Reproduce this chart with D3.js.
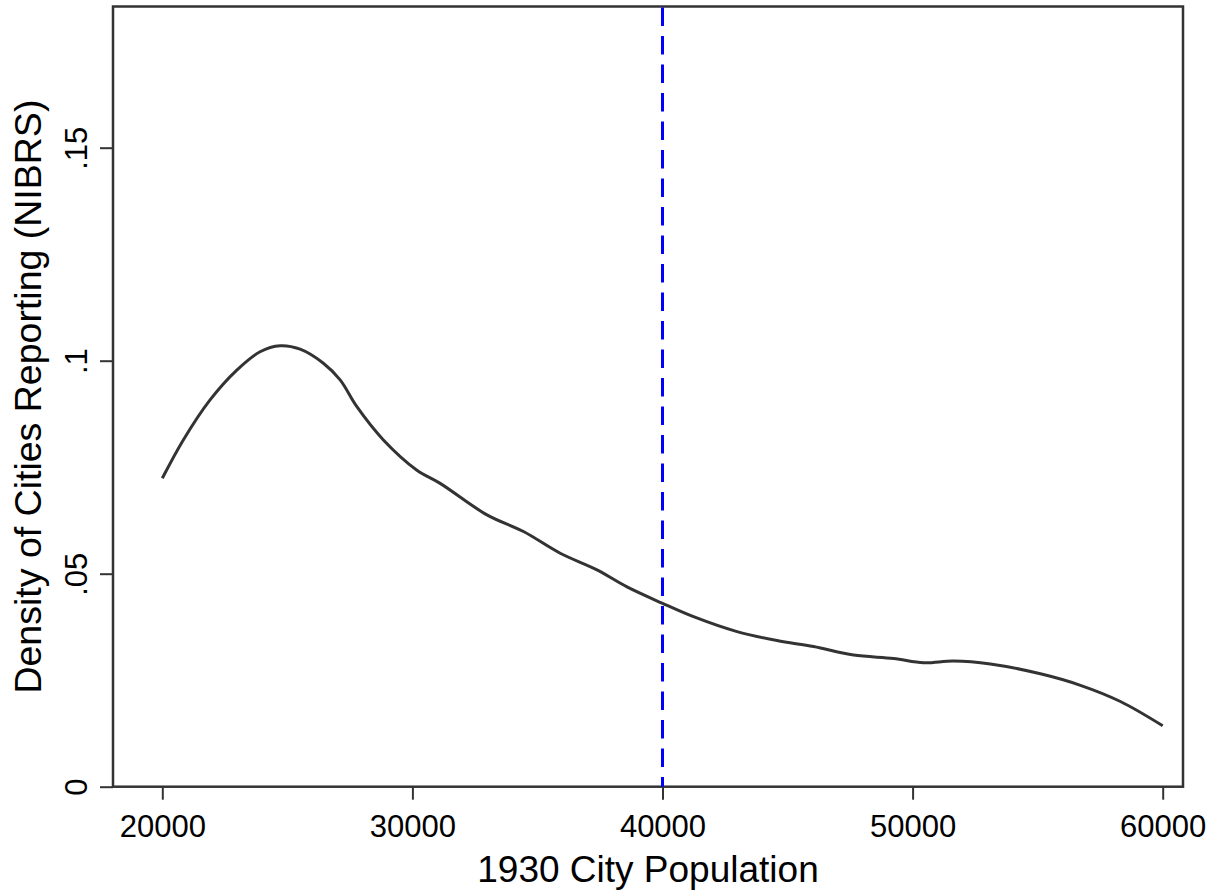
<!DOCTYPE html>
<html>
<head>
<meta charset="utf-8">
<script src="https://cdn.jsdelivr.net/npm/d3@7"></script>
<style>
  html, body { margin: 0; padding: 0; background: #fff; }
  svg { display: block; font-family: "Liberation Sans", Arial, sans-serif; }
</style>
</head>
<body>
<svg id="chart" width="1220" height="896"></svg>
<script>
// Kernel density of 1930 city population for cities reporting to NIBRS
const population = [20000, 20840, 21910, 22980, 23910, 24710, 25510, 26440, 27110, 27780,
  28840, 30180, 31110, 32980, 34440, 35910, 37380, 38580, 39980, 41240,
  42980, 44580, 46040, 47640, 49240, 50440, 51640, 53110, 55110, 56710,
  58310, 60000];
const density = [0.0724, 0.0814, 0.0908, 0.0978, 0.1021, 0.1035, 0.1027, 0.0994, 0.0955, 0.0892,
  0.0814, 0.0743, 0.0712, 0.0638, 0.0599, 0.0548, 0.0509, 0.0469, 0.0431, 0.0399,
  0.0364, 0.0343, 0.0329, 0.0309, 0.0301, 0.0291, 0.0295, 0.0288, 0.0265, 0.0238,
  0.0200, 0.0143];
const xTicks = [20000, 30000, 40000, 50000, 60000];
const yTicks = [0, 0.05, 0.1, 0.15];
const yTickLabels = ["0", ".05", ".1", ".15"];
const cutoff = [40000];
const xTitle = "1930 City Population";
const yTitle = "Density of Cities Reporting (NIBRS)";

const svg = d3.select("#chart");
const frame = { left: 113, right: 1183, top: 6.5, bottom: 786.7 };

const x = d3.scaleLinear().domain([20000, 60000]).range([162.3, 1162.7]);
const y = d3.scaleLinear().domain([0, 0.15]).range([786.7, 147.7]);

const ink = "#333";

// plot frame
svg.append("rect")
  .attr("x", frame.left).attr("y", frame.top)
  .attr("width", frame.right - frame.left)
  .attr("height", frame.bottom - frame.top)
  .attr("fill", "none").attr("stroke", ink).attr("stroke-width", 2.5);

// x axis
const xAxis = d3.axisBottom(x).tickValues(xTicks).tickFormat(d3.format("d"))
  .tickSizeInner(13).tickSizeOuter(0).tickPadding(10);
const gx = svg.append("g").attr("transform", `translate(0,${frame.bottom})`).call(xAxis);
gx.select(".domain").remove();
gx.selectAll(".tick line").attr("stroke", ink).attr("stroke-width", 2);
gx.selectAll(".tick text").attr("font-size", 31).attr("fill", "#000")
  .attr("font-family", "Liberation Sans, Arial, sans-serif")
  .attr("dy", null).attr("y", 50);

// y axis with rotated labels
const yAxis = d3.axisLeft(y).tickValues(yTicks)
  .tickFormat((d, i) => yTickLabels[i])
  .tickSizeInner(13).tickSizeOuter(0);
const gy = svg.append("g").attr("transform", `translate(${frame.left},0)`).call(yAxis);
gy.select(".domain").remove();
gy.selectAll(".tick line").attr("stroke", ink).attr("stroke-width", 2);
gy.selectAll(".tick text")
  .attr("font-size", 31).attr("fill", "#000")
  .attr("font-family", "Liberation Sans, Arial, sans-serif")
  .attr("x", null).attr("dy", null)
  .attr("text-anchor", "middle")
  .attr("transform", "translate(-26,0) rotate(-90)");

// cutoff line
svg.selectAll("line.cutoff").data(cutoff).enter().append("line")
  .attr("class", "cutoff")
  .attr("x1", d => x(d)).attr("x2", d => x(d))
  .attr("y1", frame.top + 1).attr("y2", frame.bottom)
  .attr("stroke", "#0000ff").attr("stroke-width", 3)
  .attr("stroke-dasharray", "18.5 10");

// density curve
const line = d3.line()
  .x((d, i) => x(population[i]))
  .y(d => y(d))
  .curve(d3.curveCatmullRom.alpha(0.5));
svg.append("path")
  .datum(density)
  .attr("d", line)
  .attr("fill", "none").attr("stroke", ink).attr("stroke-width", 3)
  .attr("stroke-linejoin", "round");

// axis titles
svg.append("text")
  .attr("x", (frame.left + frame.right) / 2).attr("y", 882)
  .attr("text-anchor", "middle").attr("font-size", 37).attr("fill", "#000")
  .text(xTitle);
svg.append("text")
  .attr("transform", `translate(41,${(frame.top + frame.bottom) / 2}) rotate(-90)`)
  .attr("text-anchor", "middle").attr("font-size", 37.5).attr("fill", "#000")
  .text(yTitle);
</script>
</body>
</html>
